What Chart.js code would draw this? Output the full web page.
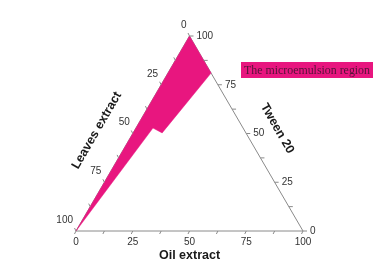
<!DOCTYPE html>
<html>
<head>
  <meta charset="utf-8">
  <title>Ternary phase diagram</title>
  <script src="https://cdn.jsdelivr.net/npm/chart.js"></script>
  <style>
    body { margin: 0; background: #fff; }
  </style>
</head>
<body>
  <canvas id="myChart" width="390" height="275"></canvas>
<script>
//------------------------------------------------------------------------------
// data (percent)
//------------------------------------------------------------------------------
var tickValues = [0, 25, 50, 75, 100];
var minorTicks = [12.5, 37.5, 62.5, 87.5];

// microemulsion region polygon, one entry per corner
var regionOil    = [0,   0,   7.5,  12.8, 19, 0];
var regionTween  = [100, 0,   52.8, 50.3, 81, 100];
var regionLeaves = [0,   100, 39.7, 36.9, 0,  0];

var axisTitles = { oil: 'Oil extract', leaves: 'Leaves extract', tween: 'Tween 20' };
var regionLabel = 'The microemulsion region';

var PINK = '#e8167f';
var H = Math.sqrt(3) / 2;

// ternary (oil, tween) -> cartesian
function toXY(oil, tween) {
  return { x: (oil + tween / 2) / 100, y: tween / 100 * H };
}

var regionPoints = regionOil.map(function (o, i) { return toXY(o, regionTween[i]); });
var outline = [toXY(0, 0), toXY(100, 0), toXY(0, 100), toXY(0, 0)];

//------------------------------------------------------------------------------
// axes, ticks, titles
//------------------------------------------------------------------------------
var ternaryAxes = {
  id: 'ternaryAxes',
  afterDatasetsDraw: function (chart) {
    var ctx = chart.ctx;
    var sx = chart.scales.x, sy = chart.scales.y;
    function px(p) { return { x: sx.getPixelForValue(p.x), y: sy.getPixelForValue(p.y) }; }

    ctx.save();
    ctx.strokeStyle = '#8a8a8a';
    ctx.lineWidth = 1;
    ctx.fillStyle = '#333';
    ctx.font = '10px "Liberation Sans", Arial, sans-serif';

    var all = tickValues.concat(minorTicks);
    all.forEach(function (v) {
      var b = px(toXY(v, 0));
      var r = px(toXY(100 - v, v));
      var l = px(toXY(0, 100 - v));
      ctx.beginPath();
      ctx.moveTo(b.x, b.y); ctx.lineTo(b.x - 1.5, b.y + 3);
      ctx.moveTo(r.x, r.y); ctx.lineTo(r.x + 4, r.y);
      ctx.moveTo(l.x, l.y); ctx.lineTo(l.x - 1.5, l.y - 3);
      ctx.stroke();
    });

    tickValues.forEach(function (v) {
      var b = px(toXY(v, 0));
      ctx.textAlign = 'center'; ctx.textBaseline = 'middle';
      ctx.fillText(v, b.x, b.y + 11);

      var r = px(toXY(100 - v, v));
      ctx.textAlign = 'left';
      ctx.fillText(v, r.x + 7, r.y);

      var l = px(toXY(0, 100 - v));
      ctx.textAlign = 'right';
      ctx.fillText(v, l.x - 3, l.y - 11);
    });

    // axis titles
    ctx.fillStyle = '#1a1a1a';
    ctx.font = 'bold 12.5px "Liberation Sans", Arial, sans-serif';
    ctx.textAlign = 'center'; ctx.textBaseline = 'middle';
    var bm = px(toXY(50, 0));
    ctx.fillText(axisTitles.oil, bm.x, bm.y + 25);

    var lm = px(toXY(0, 50));
    ctx.save();
    ctx.translate(lm.x - 36, lm.y - 3);
    ctx.rotate(-Math.PI / 3);
    ctx.fillText(axisTitles.leaves, 0, 0);
    ctx.restore();

    var rm = px(toXY(50, 50));
    ctx.save();
    ctx.translate(rm.x + 31, rm.y - 5);
    ctx.rotate(Math.PI / 3);
    ctx.fillText(axisTitles.tween, 0, 0);
    ctx.restore();

    // region label box
    ctx.fillStyle = PINK;
    ctx.fillRect(241, 62, 132, 16);
    ctx.fillStyle = '#541438';
    ctx.font = '12px "Liberation Serif", "Times New Roman", serif';
    ctx.fillText(regionLabel, 307, 70.5, 126);
    ctx.restore();
  }
};

//------------------------------------------------------------------------------
// chart
//------------------------------------------------------------------------------
var ctx = document.getElementById('myChart').getContext('2d');
var chart = new Chart(ctx, {
  type: 'scatter',
  data: {
    datasets: [{
      label: regionLabel,
      data: regionPoints,
      showLine: true,
      fill: 'shape',
      backgroundColor: PINK,
      borderColor: PINK,
      borderWidth: 0.5,
      pointRadius: 0,
      tension: 0,
      clip: false,
      order: 1
    }, {
      label: 'frame',
      data: outline,
      showLine: true,
      fill: false,
      borderColor: '#8a8a8a',
      borderWidth: 1,
      pointRadius: 0,
      tension: 0,
      clip: false,
      order: 2
    }]
  },
  options: {
    responsive: false,
    animation: false,
    devicePixelRatio: 1,
    layout: { padding: { left: 76, right: 87, top: 36, bottom: 44 } },
    scales: {
      x: { type: 'linear', min: 0, max: 1, display: false },
      y: { type: 'linear', min: 0, max: H, display: false }
    },
    plugins: {
      legend: { display: false },
      tooltip: { enabled: false }
    }
  },
  plugins: [ternaryAxes]
});
</script>
</body>
</html>
